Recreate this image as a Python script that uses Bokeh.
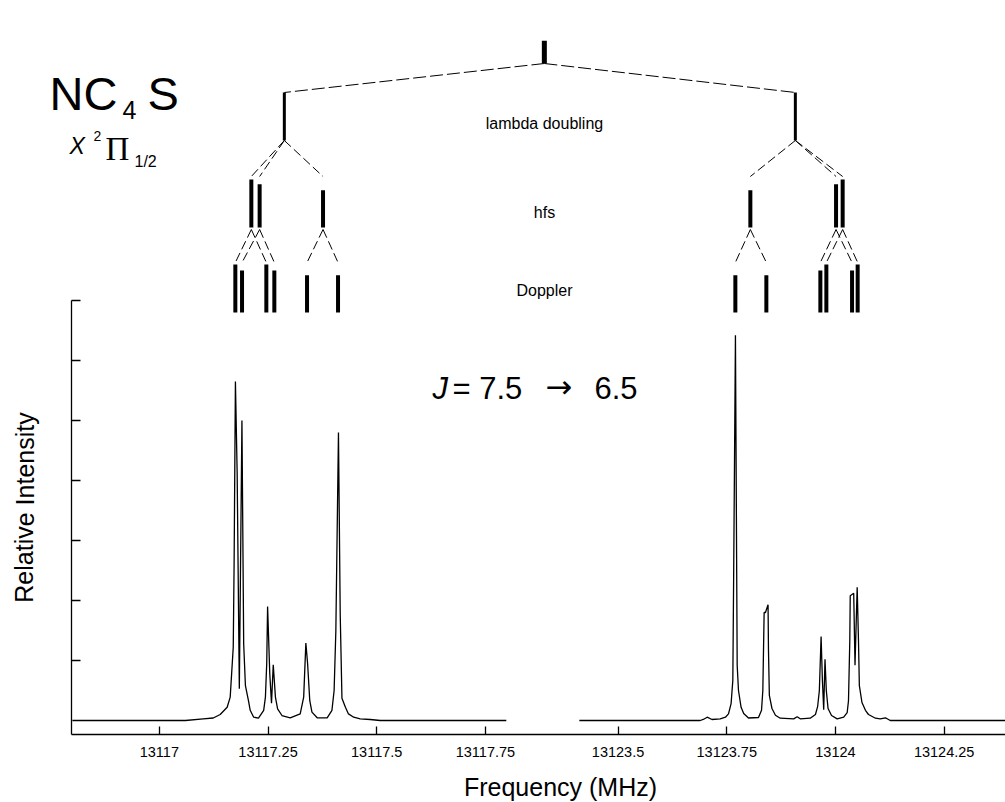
from bokeh.plotting import figure
from bokeh.layouts import column, row
from bokeh.models import Label, FixedTicker, CustomJSTickFormatter
from bokeh.embed import file_html
from bokeh.resources import INLINE

# ---------------- data ----------------
# left spectral window (MHz, relative intensity)
left_freq = [13116.800, 13117.060, 13117.101, 13117.124, 13117.140, 13117.156, 13117.163,
             13117.170, 13117.172, 13117.175, 13117.179, 13117.184, 13117.190, 13117.194,
             13117.198, 13117.205, 13117.209, 13117.217, 13117.228, 13117.240, 13117.244,
             13117.247, 13117.249, 13117.254, 13117.258, 13117.262, 13117.267, 13117.272,
             13117.282, 13117.301, 13117.324, 13117.332, 13117.337, 13117.341, 13117.346,
             13117.351, 13117.363, 13117.386, 13117.397, 13117.402, 13117.406, 13117.412,
             13117.416, 13117.420, 13117.428, 13117.435, 13117.447, 13117.462, 13117.485,
             13117.508, 13117.798]
left_int = [0.0, 0.0, 0.028, 0.042, 0.10, 0.22, 0.39,
            1.22, 2.62, 5.65, 4.12, 0.53, 5.00, 1.28,
            0.58, 0.33, 0.17, 0.055, 0.04, 0.17, 0.39,
            0.95, 1.90, 0.78, 0.29, 0.93, 0.39, 0.195,
            0.083, 0.045, 0.11, 0.39, 1.29, 0.95, 0.33,
            0.14, 0.045, 0.045, 0.17, 0.50, 1.50, 4.80,
            1.78, 0.37, 0.22, 0.11, 0.055, 0.028, 0.017,
            0.0, 0.0]

# right spectral window
right_freq = [13123.411, 13123.689, 13123.696, 13123.705, 13123.716, 13123.735, 13123.747,
              13123.754, 13123.760, 13123.764, 13123.766, 13123.770, 13123.774, 13123.777,
              13123.783, 13123.789, 13123.800, 13123.823, 13123.830, 13123.833, 13123.836,
              13123.839, 13123.845, 13123.846, 13123.848, 13123.854, 13123.862, 13123.873,
              13123.904, 13123.912, 13123.919, 13123.942, 13123.954, 13123.959, 13123.963,
              13123.967, 13123.970, 13123.973, 13123.976, 13123.979, 13123.983, 13123.991,
              13124.004, 13124.019, 13124.027, 13124.030, 13124.033, 13124.034, 13124.042,
              13124.045, 13124.050, 13124.053, 13124.055, 13124.061, 13124.069, 13124.076,
              13124.092, 13124.103, 13124.115, 13124.126, 13124.400]
right_int = [0.0, 0.0, 0.017, 0.055, 0.017, 0.028, 0.055,
             0.11, 0.28, 0.67, 2.50, 6.42, 0.92, 0.50,
             0.22, 0.117, 0.042, 0.05, 0.17, 0.50, 1.80,
             1.80, 1.93, 1.17, 0.42, 0.20, 0.088, 0.038,
             0.028, 0.062, 0.028, 0.038, 0.10, 0.23, 0.50,
             1.40, 0.67, 0.18, 1.02, 0.50, 0.20, 0.083,
             0.028, 0.055, 0.133, 0.33, 1.33, 2.08, 2.12,
             0.92, 2.22, 1.33, 0.58, 0.30, 0.17, 0.10,
             0.038, 0.028, 0.045, 0.0, 0.0]

tick_freqs = [13117, 13117.25, 13117.5, 13117.75, 13123.5, 13123.75, 13124, 13124.25]
tick_labels = ["13117", "13117.25", "13117.5", "13117.75", "13123.5", "13123.75", "13124", "13124.25"]
y_ticks = [1, 2, 3, 4, 5, 6, 7]

# splitting diagram: components (MHz) and relative strengths
center_axis_pos = 13117.8855           # unsplit line, drawn in the axis gap
center_strength = 0.38
lambda_freq = [13117.2875, 13123.9078]
lambda_strength = [0.80, 0.80]
hfs_freq = [13117.2116, 13117.2307, 13117.3765, 13123.8043, 13124.0014, 13124.0166]
hfs_strength = [0.80, 0.72, 0.62, 0.62, 0.72, 0.80]
hfs_parent = [0, 0, 0, 1, 1, 1]
dop_freq = [13117.1748, 13117.1902, 13117.2461, 13117.2645, 13117.3397, 13117.4110,
            13123.7698, 13123.8411, 13123.9653, 13123.9791, 13124.0382, 13124.0511]
dop_strength = [0.80, 0.70, 0.80, 0.70, 0.62, 0.62,
                0.62, 0.62, 0.70, 0.80, 0.70, 0.80]
dop_parent = [0, 1, 0, 1, 2, 2, 3, 3, 4, 5, 4, 5]

# ---------------- layout helpers ----------------
BREAK = 13120.0
SHIFT = 5.445
PXMHZ = 434.8
X0 = 13116.798          # axis value at the left edge of the spectrum frame (px 71)
FONT = "Liberation Sans"
SPLIT = 263             # page row where the diagram figure ends and the spectrum figure begins
BOTTOM = 770            # page row where the spectrum figure ends
STRIP = 48              # width of the strip holding the vertical axis title


def disp(f):
    return f if f < BREAK else f - SHIFT


def px_x(px):
    return X0 + (px - 71) / PXMHZ


def px_y(py):
    return (720 - py) / 60.0


def clean(fig):
    fig.grid.visible = False
    fig.outline_line_color = None
    fig.background_fill_color = "white"
    fig.border_fill_color = "white"
    try:
        fig.frame_align = False
    except Exception:
        pass


def lab(fig, text, px, py, size, align="left", font=FONT, style="normal", angle=0.0):
    fig.add_layout(Label(x=px_x(px), y=px_y(py), text=text, text_font_size=f"{size}px",
                         text_align=align, text_baseline="middle", text_font=font,
                         text_font_style=style, angle=angle, text_color="black"))


# ---------------- top figure: splitting diagram ----------------
top = figure(width=1005, height=SPLIT, output_backend="svg", toolbar_location=None,
             x_range=(px_x(0), px_x(1005)), y_range=(px_y(SPLIT), px_y(0)),
             x_axis_type=None, y_axis_type=None, min_border=0)
clean(top)

top_b = px_y(63)
lam_b = px_y(140)
hfs_b = px_y(227)
dop_b = px_y(312)

top.segment([center_axis_pos], [top_b], [center_axis_pos], [top_b + center_strength],
            line_color="black", line_width=5)
lx = [disp(f) for f in lambda_freq]
top.segment(lx, [lam_b] * 2, lx, [lam_b + s for s in lambda_strength], line_color="black", line_width=3)
top.segment([center_axis_pos] * 2, [top_b] * 2, lx, [lam_b + s for s in lambda_strength],
            line_color="black", line_width=1, line_dash="13 4")
hx = [disp(f) for f in hfs_freq]
top.segment(hx, [hfs_b] * len(hx), hx, [hfs_b + s for s in hfs_strength], line_color="black", line_width=4)
top.segment([lx[i] for i in hfs_parent], [lam_b] * len(hx), hx, [px_y(176)] * len(hx),
            line_color="black", line_width=1, line_dash="9 4")
dx = [disp(f) for f in dop_freq]
top.segment([hx[i] for i in dop_parent], [px_y(229)] * len(dx), dx, [px_y(262)] * len(dx),
            line_color="black", line_width=1, line_dash="9 4")

lab(top, "lambda doubling", 544, 123, 16, align="center")
lab(top, "hfs", 544, 212, 16, align="center")

lab(top, "NC", 49, 92.5, 47)
lab(top, "4", 122, 109, 25)
lab(top, "S", 147, 92.5, 47)
lab(top, "X", 69, 145, 23, style="italic")
lab(top, "2", 93, 135.5, 14)
lab(top, "\u03a0", 105, 148, 33, font="Liberation Serif")
lab(top, "1/2", 134, 161, 16)

# ---------------- strip with the vertical axis title ----------------
s = figure(width=STRIP, height=BOTTOM - SPLIT, output_backend="svg", toolbar_location=None,
           x_range=(0, STRIP), y_range=(BOTTOM, SPLIT), x_axis_type=None, y_axis_type=None, min_border=0)
clean(s)
s.add_layout(Label(x=24, y=507, text="Relative Intensity", text_font_size="25px", text_align="center",
                   text_baseline="middle", text_font=FONT, text_color="black", angle=1.5707963))

# ---------------- spectrum figure ----------------
p = figure(width=1005 - STRIP, height=BOTTOM - SPLIT, output_backend="svg", toolbar_location=None,
           x_range=(X0, px_x(1005)), y_range=(px_y(734), px_y(SPLIT)),
           min_border_left=71 - STRIP, min_border_right=0, min_border_top=0, min_border_bottom=BOTTOM - 734)
clean(p)

p.line([disp(f) for f in left_freq], left_int, line_color="black", line_width=1.3)
p.line([disp(f) for f in right_freq], right_int, line_color="black", line_width=1.3)

p.segment(dx, [dop_b] * len(dx), dx, [dop_b + s_ for s_ in dop_strength], line_color="black", line_width=4)
lab(p, "Doppler", 544, 290, 16, align="center")

lab(p, "J", 432, 387.5, 31, style="italic")
lab(p, "= 7.5", 452, 387.5, 31)
lab(p, "\u2192", 545, 386.5, 32, font="DejaVu Sans")
lab(p, "6.5", 594, 387.5, 31)

tick_disp = [disp(f) for f in tick_freqs]
xa = p.xaxis[0]
xa.ticker = FixedTicker(ticks=tick_disp)
xa.formatter = CustomJSTickFormatter(args=dict(tvals=tick_disp, tlabels=tick_labels), code="""
for (let i = 0; i < tvals.length; i++) { if (Math.abs(tvals[i] - tick) < 1e-6) return tlabels[i]; }
return "";
""")
xa.major_tick_in = 8
xa.major_tick_out = 0
xa.minor_tick_in = 0
xa.minor_tick_out = 0
xa.axis_line_width = 1.3
xa.major_tick_line_width = 1.3
xa.major_label_standoff = 12
xa.major_label_text_font = FONT
xa.major_label_text_font_size = "14.5px"
xa.major_label_text_color = "black"

ya = p.yaxis[0]
ya.bounds = (px_y(734), y_ticks[-1])
ya.ticker = FixedTicker(ticks=y_ticks)
ya.formatter = CustomJSTickFormatter(code="return '';")
ya.major_tick_in = 9
ya.major_tick_out = 0
ya.minor_tick_in = 0
ya.minor_tick_out = 0
ya.major_label_standoff = 0
ya.axis_line_width = 1.3
ya.major_tick_line_width = 1.3

# ---------------- axis title strip ----------------
t = figure(width=1005, height=802 - BOTTOM, output_backend="svg", toolbar_location=None,
           x_range=(0, 1005), y_range=(802, BOTTOM), x_axis_type=None, y_axis_type=None, min_border=0)
clean(t)
t.add_layout(Label(x=560, y=786, text="Frequency (MHz)", text_font_size="25px", text_align="center",
                   text_baseline="middle", text_font=FONT, text_color="black"))

layout = column(top, row(s, p, spacing=0), t, spacing=0)
open("out.html", "w").write(file_html(layout, INLINE))
